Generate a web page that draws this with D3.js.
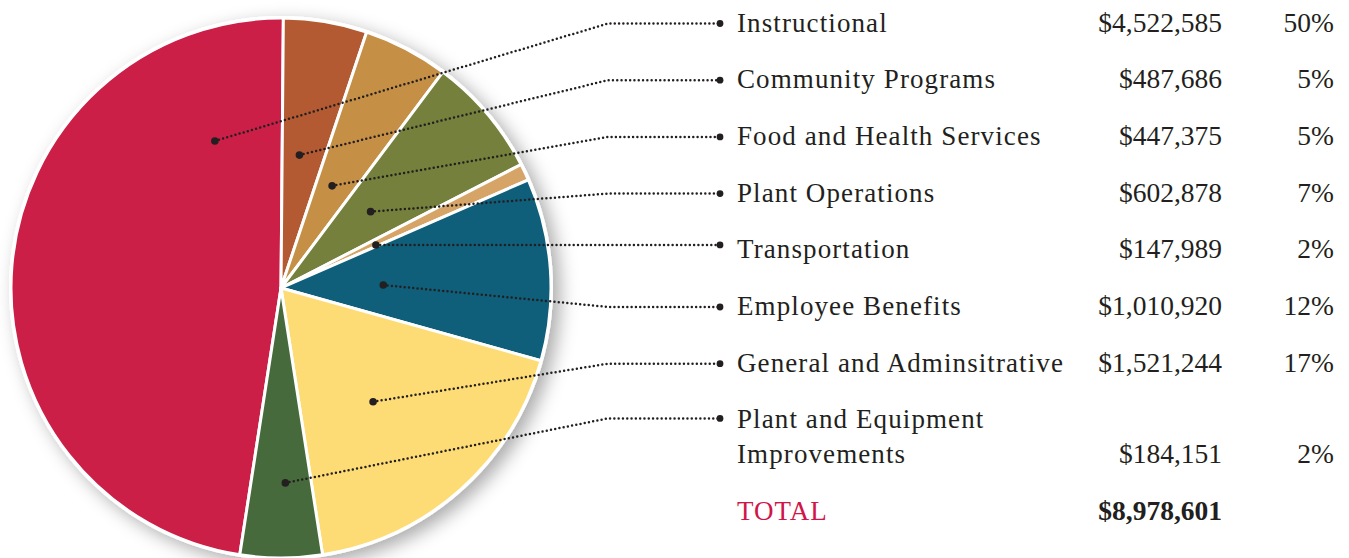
<!DOCTYPE html>
<html>
<head>
<meta charset="utf-8">
<script src="https://cdn.jsdelivr.net/npm/d3@7"></script>
<style>
  html, body { margin: 0; padding: 0; background: #ffffff; }
  svg { display: block; }
</style>
</head>
<body>
<svg id="chart" width="1349" height="558"></svg>
<script>
// ---------------- data ----------------
const categories = [
  "Instructional",
  "Community Programs",
  "Food and Health Services",
  "Plant Operations",
  "Transportation",
  "Employee Benefits",
  "General and Adminsitrative",
  "Plant and Equipment Improvements"
];
const amounts = [4522585, 487686, 447375, 602878, 147989, 1010920, 1521244, 184151];
const percentLabels = ["50%", "5%", "5%", "7%", "2%", "12%", "17%", "2%"];
const totalLabel = "TOTAL";
const totalAmount = 8978601;
// slice sizes as drawn in the picture (percent of the circle)
const sliceShares = [47.7, 5.0, 5.1, 7.2, 1.0, 10.9, 18.2, 4.9];
const sliceColors = ["#cb1f47", "#b35a32", "#c58f46", "#74803b", "#d5a466", "#0f5f7b", "#fddc76", "#476a3c"];

// ---------------- layout ----------------
const cx = 281, cy = 288, R = 270;
const startDeg = 0.5 - sliceShares[0] * 3.6;          // red slice ends just past 12 o'clock
// leader dot placement inside each slice: [fraction of slice angle, fraction of radius]
const dotPlacement = [[0.856, 0.597], [0.41, 0.497], [0.44, 0.423], [0.49, 0.436],
                      [0.78, 0.386], [0.56, 0.379], [0.54, 0.542], [0.43, 0.722]];
const labelX = 737, valueRight = 1222, pctRight = 1334;
const firstBaseline = 31.5, rowStep = 56.7;
const bendX = 608, endX = 720;
const ink = "#231f20";

const svg = d3.select("#chart");
const defs = svg.append("defs");
const f = defs.append("filter").attr("id", "shadow")
  .attr("x", "-20%").attr("y", "-20%").attr("width", "140%").attr("height", "140%");
f.append("feDropShadow").attr("dx", 7).attr("dy", 6).attr("stdDeviation", 9)
  .attr("flood-color", "#000").attr("flood-opacity", 0.33);

const toRad = d => d * Math.PI / 180;
const pie = d3.pie().sort(null).value(d => d)
  .startAngle(toRad(startDeg)).endAngle(toRad(startDeg + 360));
const arcs = pie(sliceShares);
const arc = d3.arc().innerRadius(0).outerRadius(R);

const g = svg.append("g").attr("transform", `translate(${cx},${cy})`);
g.append("circle").attr("r", R + 2).attr("fill", "#fff").attr("filter", "url(#shadow)");
g.selectAll("path.slice").data(arcs).join("path")
  .attr("class", "slice")
  .attr("d", arc)
  .attr("fill", (d, i) => sliceColors[i])
  .attr("stroke", "#fff").attr("stroke-width", 3).attr("stroke-linejoin", "round");

// row baselines
const baselines = categories.map((c, i) => firstBaseline + i * rowStep);
const lastRowSecondLine = baselines[7] + 35;
const totalBaseline = lastRowSecondLine + 56.5;

// leader lines
const leaders = arcs.map((a, i) => {
  const [fr, rf] = dotPlacement[i];
  const ang = a.startAngle + fr * (a.endAngle - a.startAngle);
  const x0 = cx + R * rf * Math.sin(ang), y0 = cy - R * rf * Math.cos(ang);
  const ly = baselines[i] - 8 + (i === 7 ? -2 : 0);
  return { x0, y0, ly };
});
leaders[4].ly = leaders[4].y0; // transportation runs straight across

const lg = svg.append("g");
lg.selectAll("path.leader").data(leaders).join("path")
  .attr("class", "leader")
  .attr("d", d => `M${d.x0},${d.y0}L${bendX},${d.ly}L${endX},${d.ly}`)
  .attr("fill", "none").attr("stroke", ink).attr("stroke-width", 2.5)
  .attr("stroke-linecap", "round").attr("stroke-dasharray", "0 4.3");
lg.selectAll("circle.start").data(leaders).join("circle")
  .attr("class", "start").attr("cx", d => d.x0).attr("cy", d => d.y0).attr("r", 3.8).attr("fill", ink);
lg.selectAll("circle.end").data(leaders).join("circle")
  .attr("class", "end").attr("cx", endX).attr("cy", d => d.ly).attr("r", 3.4).attr("fill", ink);

// text table
const fmt = d3.format("$,");
const tg = svg.append("g").attr("font-family", "'Liberation Serif', 'Times New Roman', serif").attr("fill", ink);
categories.forEach((c, i) => {
  const t = tg.append("text").attr("x", labelX).attr("y", baselines[i])
    .attr("font-size", 27).attr("letter-spacing", 1.1);
  const vy = i === 7 ? lastRowSecondLine : baselines[i];
  if (i === 7) {
    t.append("tspan").attr("x", labelX).attr("y", baselines[i]).text("Plant and Equipment");
    t.append("tspan").attr("x", labelX).attr("y", lastRowSecondLine).text("Improvements");
  } else {
    t.text(c);
  }
  tg.append("text").attr("x", valueRight).attr("y", vy).attr("text-anchor", "end")
    .attr("font-size", 27.5).text(fmt(amounts[i]));
  tg.append("text").attr("x", pctRight).attr("y", vy).attr("text-anchor", "end")
    .attr("font-size", 27.5).text(percentLabels[i]);
});
tg.append("text").attr("x", labelX).attr("y", totalBaseline).attr("font-size", 27)
  .attr("letter-spacing", 1.0).attr("fill", "#d0154a").text(totalLabel);
tg.append("text").attr("x", valueRight).attr("y", totalBaseline).attr("text-anchor", "end")
  .attr("font-size", 27.5).attr("font-weight", "bold").text(fmt(totalAmount));
</script>
</body>
</html>
